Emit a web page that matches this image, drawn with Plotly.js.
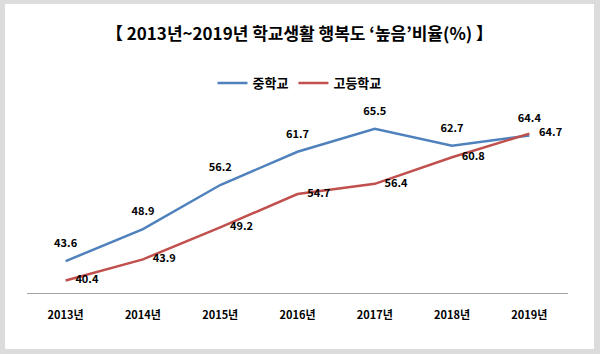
<!DOCTYPE html>
<html>
<head>
<meta charset="utf-8">
<script src="https://cdn.plot.ly/plotly-3.0.1.min.js"></script>
<style>
  html, body { margin: 0; padding: 0; background: #dcdcdc; width: 600px; height: 354px; overflow: hidden; }
  #chart { position: absolute; left: 5px; top: 4px; width: 589px; height: 345px; background: #fff; }
</style>
</head>
<body>
<div id="chart"></div>
<script>
const years = ['2013년', '2014년', '2015년', '2016년', '2017년', '2018년', '2019년'];
const middleSchool = [43.6, 48.9, 56.2, 61.7, 65.5, 62.7, 64.4];
const highSchool = [40.4, 43.9, 49.2, 54.7, 56.4, 60.8, 64.7];
const seriesNames = ['중학교', '고등학교'];

const FONT = '"Noto Sans CJK KR", "Noto Sans", sans-serif';
const HIDDEN = 'rgba(0,0,0,0)';

const traces = [
  {
    x: years, y: middleSchool, name: seriesNames[0],
    type: 'scatter', mode: 'lines+markers+text',
    line: { color: '#4F81BD', width: 2.5 },
    marker: { size: 16, color: HIDDEN, line: { width: 0, color: HIDDEN } },
    text: middleSchool.map(v => v.toFixed(1)),
    textposition: 'top center',
    textfont: { family: FONT, size: 11, color: '#000', weight: 'bold' },
    cliponaxis: false, hoverinfo: 'skip'
  },
  {
    x: years, y: highSchool, name: seriesNames[1],
    type: 'scatter', mode: 'lines+markers+text',
    line: { color: '#C0504D', width: 2.5 },
    marker: { size: 14, color: HIDDEN, line: { width: 0, color: HIDDEN } },
    text: highSchool.map(v => v.toFixed(1)),
    textposition: 'middle right',
    textfont: { family: FONT, size: 11, color: '#000', weight: 'bold' },
    cliponaxis: false, hoverinfo: 'skip'
  }
];

const layout = {
  width: 589, height: 345,
  paper_bgcolor: '#ffffff', plot_bgcolor: '#ffffff',
  margin: { l: 22, r: 26, t: 93, b: 56 },
  font: { family: FONT, color: '#000' },
  title: {
    text: '【 2013년~2019년 학교생활 행복도 ‘높음’비율(%) 】',
    font: { family: FONT, size: 17, color: '#000', weight: 'bold' },
    x: 0.5, xanchor: 'center', xref: 'container',
    y: 1 - 30 / 345, yanchor: 'middle', yref: 'container'
  },
  showlegend: true,
  legend: {
    orientation: 'h',
    x: 0.5, xanchor: 'center', xref: 'container',
    y: 1 - 79 / 345, yanchor: 'middle', yref: 'container',
    font: { family: FONT, size: 13, color: '#000', weight: 'bold' },
    itemwidth: 30, tracegroupgap: 0
  },
  xaxis: {
    type: 'category', range: [-0.5, 6.5],
    showline: true, linecolor: '#a6a6a6', linewidth: 1,
    showgrid: false, zeroline: false, ticks: '',
    ticklabelstandoff: 12,
    tickfont: { family: FONT, size: 11, color: '#000', weight: 'bold' },
    fixedrange: true
  },
  yaxis: {
    range: [38.33, 70.6],
    visible: false, showgrid: false, zeroline: false,
    fixedrange: true
  }
};

Plotly.newPlot('chart', traces, layout, { staticPlot: true, displayModeBar: false });
</script>
</body>
</html>
